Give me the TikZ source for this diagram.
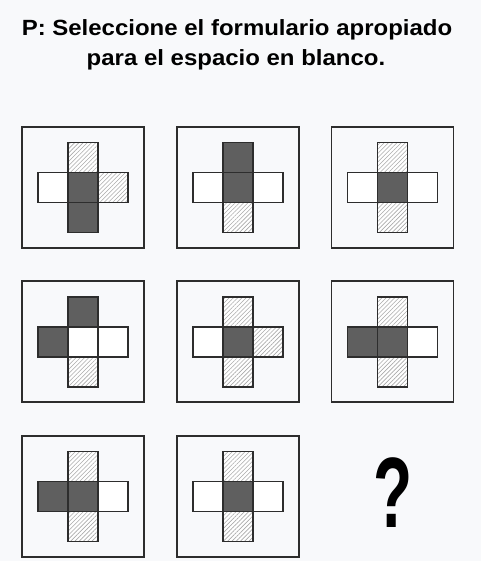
\documentclass[tikz,border=0pt]{standalone}
\usepackage{fontspec}
\setmainfont{Liberation Sans}
\usetikzlibrary{positioning,patterns.meta}
\definecolor{ink}{RGB}{45,45,45}
\definecolor{shade}{RGB}{95,95,95}
\definecolor{paper}{RGB}{248,249,251}
\definecolor{hatch}{RGB}{170,170,170}

% one panel: name, centre, top, left, middle, right, bottom
\newcommand{\crossfig}[7]{%
  \node[frame] (#1) at (#2) {};
  \node[#5] (#1c) at (#1) {};
  \node[#3,above=0pt of #1c] (#1t) {};
  \node[#4,left=0pt of #1c] (#1l) {};
  \node[#6,right=0pt of #1c] (#1r) {};
  \node[#7,below=0pt of #1c] (#1b) {};
}

\begin{document}
\begin{tikzpicture}[x=1pt,y=1pt,
  title/.style={anchor=base,font=\fontsize{22}{26}\selectfont\bfseries,text=black,xscale=1.09},
  frame/.style={draw=ink,line width=1.6pt,minimum width=122pt,minimum height=121pt,
                outer sep=0pt,inner sep=0pt},
  cell/.style={draw=ink,line width=1.6pt,minimum size=30pt,outer sep=0pt,inner sep=0pt},
  wsq/.style={cell,fill=white},
  dsq/.style={cell,fill=shade},
  hsq/.style={cell,preaction={fill=white},
              pattern={Lines[angle=45,distance=3pt,line width=0.6pt]},pattern color=hatch}]
\fill[paper] (0,0) rectangle (481,-561);
\useasboundingbox (0,0) rectangle (481,-561);
\node[title] (q1) at (237,-36) {P: Seleccione el formulario apropiado};
\node[title] (q2) at (236,-66) {para el espacio en blanco.};
% row 1
\crossfig{a}{83,-187.5}{hsq}{wsq}{dsq}{hsq}{dsq}
\crossfig{b}{238,-187.5}{dsq}{wsq}{dsq}{wsq}{hsq}
\crossfig{c}{392.5,-187.5}{hsq}{wsq}{dsq}{wsq}{hsq}
% row 2
\crossfig{d}{83,-341.7}{dsq}{dsq}{wsq}{wsq}{hsq}
\crossfig{e}{238,-341.7}{hsq}{wsq}{dsq}{hsq}{hsq}
\crossfig{f}{392.5,-341.7}{hsq}{dsq}{dsq}{wsq}{hsq}
% row 3
\crossfig{g}{83,-496.3}{hsq}{dsq}{dsq}{wsq}{hsq}
\crossfig{h}{238,-496.3}{hsq}{wsq}{dsq}{wsq}{hsq}
\node[font=\fontsize{100}{100}\selectfont\bfseries,xscale=0.64] (ans) at (393,-493) {?};
\end{tikzpicture}
\end{document}
